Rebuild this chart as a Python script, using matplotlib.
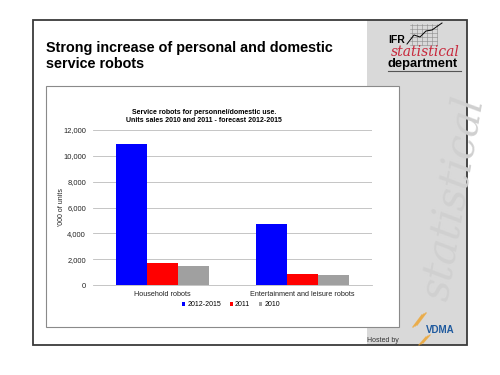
import matplotlib
matplotlib.use("Agg")
import matplotlib.pyplot as plt
from matplotlib.patches import Rectangle, Patch
import numpy as np

plt.rcParams['font.family'] = ['Liberation Sans', 'DejaVu Sans']

# chart data ('000 of units)
categories = ["Household robots", "Entertainment and leisure robots"]
series_names = ["2012-2015", "2011", "2010"]
forecast_2012_2015 = [10950, 4690]
sales_2011 = [1720, 850]
sales_2010 = [1470, 750]
y_ticks = [0, 2000, 4000, 6000, 8000, 10000, 12000]

colors = ["#0000ff", "#ff0000", "#a0a0a0"]

W, H = 500, 375
fig = plt.figure(figsize=(5, 3.75), dpi=100)

# background "slide" drawn in pixel coordinates
bg = fig.add_axes([0, 0, 1, 1])
bg.set_xlim(0, W)
bg.set_ylim(H, 0)
bg.axis('off')

# gray side panel
bg.add_patch(Rectangle((367, 20), 100, 325, facecolor='#d9d9d9', edgecolor='none'))
# faint watermark in panel
wm = bg.text(453, 198, "statistical", rotation=80, fontsize=30, color='#d0d0d0',
             family='DejaVu Serif', style='italic', ha='center', va='center')
wm.set_clip_path(Rectangle((367, 20), 100, 325, transform=bg.transData))
# slide border
bg.add_patch(Rectangle((33, 20), 434, 325, facecolor='none', edgecolor='#3a3a3a', lw=1.3))

# slide title
bg.text(46, 52, "Strong increase of personal and domestic", fontsize=10.4,
        weight='bold', ha='left', va='baseline')
bg.text(46, 68, "service robots", fontsize=10.4, weight='bold', ha='left', va='baseline')

# IFR logo
bg.text(388, 43, "IFR", fontsize=7.5, weight='bold', ha='left', va='baseline')
for gx in np.arange(412, 438, 5):
    bg.plot([gx, gx], [24, 45], color='#8a8a8a', lw=0.4)
for gy in np.arange(25, 46, 4):
    bg.plot([410, 437], [gy, gy], color='#8a8a8a', lw=0.4)
bg.plot([407, 414, 420, 426, 432, 442], [44, 35, 37, 31, 30, 23], color='black', lw=0.7)
bg.text(425, 52.5, "statistical", fontsize=10, color='#c8283c', family='DejaVu Serif',
        style='italic', ha='center', va='center')
bg.text(388, 67, "department", fontsize=9.3, weight='bold', ha='left', va='baseline')
bg.plot([388, 461], [71, 71], color='#555555', lw=0.8)

# VDMA logo
for k in range(3):
    bg.plot([413 + k * 2, 422 + k * 2], [327 - k, 315 - k], color='#f0a020', lw=1.0, alpha=0.7)
    bg.plot([419 + k * 2, 426 + k * 2], [345 - k, 337 - k], color='#f0a020', lw=0.9, alpha=0.7)
bg.text(440, 330, "VDMA", fontsize=7, weight='bold', color='#1f5a9e', ha='center', va='center')
bg.text(367, 341, "Hosted by", fontsize=5, color='#333333', ha='left', va='center')

# chart box
bg.add_patch(Rectangle((46, 86), 353, 241, facecolor='white', edgecolor='#8a8a8a', lw=0.8))

# chart title
bg.text(204, 113, "Service robots for personnel/domestic use.", fontsize=5,
        weight='bold', ha='center', va='center')
bg.text(204, 120.5, "Units sales 2010 and 2011 - forecast 2012-2015", fontsize=5,
        weight='bold', ha='center', va='center')

# bar chart axes
ax = fig.add_axes([93 / W, 1 - 285 / H, (372 - 93) / W, (285 - 130) / H])
x = np.arange(len(categories))
bw = 0.222
values = [forecast_2012_2015, sales_2011, sales_2010]
for i, (name, vals) in enumerate(zip(series_names, values)):
    ax.bar(x + (i - 1) * bw, vals, bw, color=colors[i], label=name, zorder=3)

ax.set_xlim(-0.5, 1.5)
ax.set_ylim(0, 12000)
ax.set_yticks(y_ticks)
ax.set_yticklabels([f"{v:,}" for v in y_ticks], fontsize=5.4, color='#222222')
ax.set_xticks(x)
ax.set_xticklabels(categories, fontsize=5.2, color='#222222')
ax.tick_params(axis='both', length=0)
ax.tick_params(axis='y', pad=5)
ax.tick_params(axis='x', pad=4)
ax.grid(axis='y', color='#bcbcbc', lw=0.6, zorder=0)
for s in ['top', 'right', 'left']:
    ax.spines[s].set_visible(False)
ax.spines['bottom'].set_color('#bcbcbc')
ax.spines['bottom'].set_linewidth(0.6)
ax.set_ylabel("'000 of units", fontsize=5, color='#222222', labelpad=-1)

handles = [Patch(facecolor=c, edgecolor='none') for c in colors]
fig.legend(handles, series_names, loc='center', bbox_to_anchor=(231 / W, 1 - 305 / H),
           ncol=3, frameon=False, fontsize=5, handlelength=0.45, handleheight=0.45,
           handletextpad=0.3, columnspacing=1.3, borderpad=0)

fig.savefig("out.png", dpi=100)
